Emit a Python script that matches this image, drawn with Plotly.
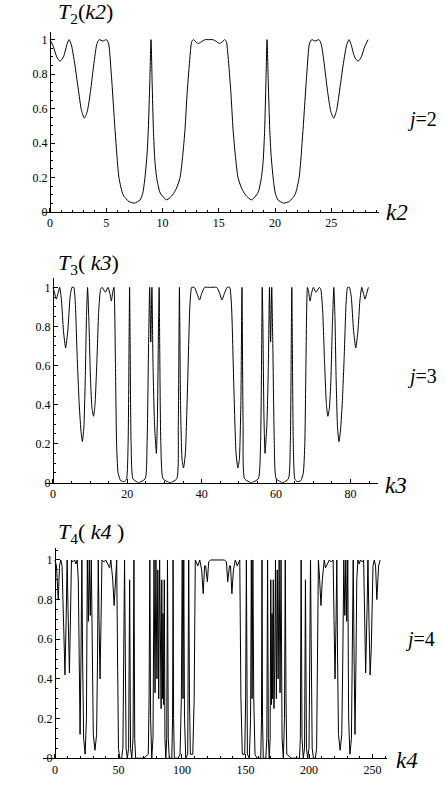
import plotly.graph_objects as go

# ---------------- data ----------------
k2 = [0, 0.3, 0.6, 0.89, 1.2, 1.5, 1.69, 1.9, 2.2, 2.5, 2.8, 3.05, 3.3, 3.6, 3.9, 4.15, 4.36, 4.7, 5.0, 5.2,
      5.45, 5.78, 6.13, 6.5, 7.0, 7.5, 8.0, 8.25, 8.44, 8.62, 8.74, 8.87, 8.98, 9.08, 9.19, 9.32, 9.48, 9.8,
      10.37, 10.9, 11.25, 11.56, 11.8, 12.0, 12.2, 12.44, 12.6, 12.75, 13.0, 13.2, 13.5, 13.8,
      14.14,
      14.47, 14.77, 15.07, 15.27, 15.52, 15.67, 15.83, 16.07, 16.27, 16.47, 16.71, 17.02, 17.37, 17.9, 18.47,
      18.79, 18.95, 19.08, 19.19, 19.29, 19.4, 19.53, 19.65, 19.83, 20.02, 20.27, 20.77, 21.27, 21.77, 22.14,
      22.49, 22.82, 23.07, 23.27, 23.57, 23.91, 24.12, 24.37, 24.67, 24.97, 25.22, 25.47, 25.77, 26.07, 26.37,
      26.58, 26.77, 27.07, 27.38, 27.67, 27.97, 28.27]
T2 = [1.0, 0.96, 0.90, 0.875, 0.90, 0.97, 1.0, 0.97, 0.86, 0.72, 0.59, 0.545, 0.58, 0.70, 0.86, 0.97, 1.0, 0.992,
      1.0, 0.98, 0.80, 0.48, 0.20, 0.10, 0.062, 0.052, 0.07, 0.11, 0.20, 0.33, 0.48, 0.75, 1.0, 0.75, 0.48,
      0.30, 0.20, 0.11, 0.071, 0.10, 0.14, 0.20, 0.33, 0.48, 0.70, 0.90, 0.99, 1.0, 0.985, 0.978, 0.99, 1.0,
      1.0,
      1.0, 0.99, 0.978, 0.985, 1.0, 0.99, 0.90, 0.70, 0.48, 0.33, 0.20, 0.14, 0.10, 0.071, 0.11, 0.20, 0.30,
      0.48, 0.75, 1.0, 0.75, 0.48, 0.33, 0.20, 0.11, 0.07, 0.052, 0.062, 0.10, 0.20, 0.48, 0.80, 0.98, 1.0,
      0.992, 1.0, 0.97, 0.86, 0.70, 0.58, 0.545, 0.59, 0.72, 0.86, 0.97, 1.0, 0.97, 0.90, 0.875, 0.90, 0.96, 1.0]

k3 = [0, 0.45, 0.9, 1.35, 1.8, 2.3, 2.8, 3.4, 4.0, 4.6, 5.1, 5.6, 6.0, 6.5, 7.0, 7.5, 7.9, 8.3, 8.7, 9.0,
      9.3, 9.7, 10.1, 10.5, 10.9, 11.3, 11.8, 12.3, 12.8, 13.2, 14.1, 14.8, 15.3, 15.7, 16.1, 16.4, 16.8, 17.1,
      17.5, 18.2, 19.2, 19.8, 20.2, 20.45, 20.6, 20.75, 21.0, 21.5, 23.0, 24.8, 25.3, 25.7, 26.0, 26.3, 26.6,
      26.9, 27.3, 27.8, 28.1, 28.4, 28.55, 28.7, 29.0, 29.6, 31.5, 33.3, 33.7, 34.0, 34.3, 34.7, 35.1, 35.6,
      36.2, 36.8, 37.3, 38.0, 38.7, 39.4, 40.0, 40.8,
      42.41,
      44.02, 44.82, 45.42, 46.12, 46.82, 47.52, 48.02, 48.62, 49.22, 49.72, 50.12, 50.52, 50.82, 51.12, 51.52,
      53.32, 55.22, 55.82, 56.12, 56.27, 56.42, 56.72, 57.02, 57.52, 57.92, 58.22, 58.52, 58.82, 59.12, 59.52,
      60.02, 61.82, 63.32, 63.82, 64.07, 64.22, 64.37, 64.62, 65.02, 65.62, 66.62, 67.32, 67.72, 68.02, 68.42,
      68.72, 69.12, 69.52, 70.02, 70.72, 71.62, 72.02, 72.52, 73.02, 73.52, 73.92, 74.32, 74.72, 75.12, 75.52,
      75.82, 76.12, 76.52, 76.92, 77.32, 77.82, 78.32, 78.82, 79.22, 79.72, 80.22, 80.82, 81.42, 82.02, 82.52,
      83.02, 83.47, 83.92, 84.37, 84.82]
T3 = [1.0, 0.97, 0.94, 0.97, 1.0, 0.93, 0.78, 0.69, 0.78, 0.95, 1.0, 1.0, 0.92, 0.65, 0.42, 0.27, 0.21, 0.28,
      0.55, 0.85, 1.0, 0.8, 0.52, 0.38, 0.34, 0.40, 0.62, 0.88, 0.99, 1.0, 0.975, 1.0, 0.97, 0.93, 0.98, 1.0,
      0.6, 0.2, 0.05, 0.01, 0.005, 0.02, 0.2, 0.7, 1.0, 0.7, 0.2, 0.02, 0.0, 0.02, 0.2, 0.7, 1.0, 0.72, 1.0,
      0.6, 0.3, 0.15, 0.35, 0.85, 1.0, 0.7, 0.2, 0.02, 0.0, 0.02, 0.3, 1.0, 0.4, 0.12, 0.075, 0.15, 0.5, 0.9,
      1.0, 1.0, 0.97, 0.935, 0.97, 1.0,
      1.0,
      1.0, 0.97, 0.935, 0.97, 1.0, 1.0, 0.9, 0.5, 0.15, 0.075, 0.12, 0.4, 1.0, 0.3, 0.02, 0.0, 0.02, 0.2, 0.7,
      1.0, 0.85, 0.35, 0.15, 0.3, 0.6, 1.0, 0.72, 1.0, 0.7, 0.2, 0.02, 0.0, 0.02, 0.2, 0.7, 1.0, 0.7, 0.2,
      0.02, 0.005, 0.01, 0.05, 0.2, 0.6, 1.0, 0.98, 0.93, 0.97, 1.0, 0.975, 1.0, 0.99, 0.88, 0.62, 0.40, 0.34,
      0.38, 0.52, 0.8, 1.0, 0.85, 0.55, 0.28, 0.21, 0.27, 0.42, 0.65, 0.92, 1.0, 1.0, 0.95, 0.78, 0.69, 0.78,
      0.93, 1.0, 0.97, 0.94, 0.97, 1.0]

k4 = [0, 1.2, 2.6, 3.6, 4.6, 5.6, 6.3, 7.0, 7.9, 8.8, 9.6, 10.3, 11.4, 12.2, 13.0, 14.0, 15.5, 16.5, 17.5,
      18.4, 19.0, 19.8, 20.5, 21.2, 21.8, 22.6, 23.8, 24.8, 25.5, 26.3, 27.0, 27.8, 28.6, 29.4, 30.2, 31.5,
      32.8, 33.5, 34.1, 34.7, 35.5, 36.3, 37.0, 38.5, 40, 41.5, 43, 44, 45.5, 46.6, 47.6, 48.6, 49.3, 50, 51,
      52.5, 53.5, 54.3, 54.8, 55.3, 56, 57, 58, 58.8, 59.5, 60.5, 61.5, 62.2, 62.8, 63.5, 70, 73.5, 74.1, 74.7,
      75.3, 76.2, 77.2, 78.0, 78.8, 79.5, 80.3, 81.0, 81.7, 82.4, 83.0, 83.6, 84.1, 84.6, 85.1, 85.6, 86.1,
      86.6, 87.3, 88.0, 88.6, 89.2, 90, 92, 92.6, 93.0, 93.4, 94, 97, 98.5, 99.5, 100.2, 100.8, 101.4, 102,
      103, 104.5, 105.3, 105.9, 106.6, 108.5, 109.6, 110.5, 112.5, 114, 115.5, 116.7, 117.8, 118.6, 120, 121,
      122.5,
      128,
      133.5, 135, 136, 137.4, 138.2, 139.3, 140.5, 142, 143.5, 145.5, 146.4, 147.5, 149.4, 150.1, 150.7,
      151.5, 153, 154, 154.6, 155.2, 155.8, 156.5, 157.5, 159, 162, 162.6, 163.0, 163.4, 164, 166, 166.8,
      167.4, 168.0, 168.7, 169.4, 169.9, 170.4, 170.9, 171.4, 171.9, 172.4, 173.0, 173.6, 174.3, 175.0, 175.7,
      176.5, 177.2, 178.0, 178.8, 179.8, 180.7, 181.3, 181.9, 182.5, 186, 192.5, 193.2, 193.8, 194.5, 195.5,
      196.5, 197.2, 198, 199, 200, 200.7, 201.2, 201.7, 202.5, 203.5, 205, 206, 206.7, 207.4, 208.4, 209.4,
      210.5, 212, 213, 214.5, 216, 217.5, 219.0, 219.7, 220.5, 221.3, 221.9, 222.5, 223.2, 224.5, 225.8,
      226.6, 227.4, 228.2, 229.0, 229.7, 230.5, 231.2, 232.2, 233.4, 234.2, 234.8, 235.5, 236.2, 237.0, 237.6,
      238.5, 239.5, 240.5, 242.0, 243.0, 243.8, 244.6, 245.7, 246.4, 247.2, 248.1, 249.0, 249.7, 250.4, 251.4,
      252.4, 253.4, 254.8, 256]
T4 = [1.0, 0.97, 0.80, 0.97, 1.0, 0.97, 0.8, 0.55, 0.42, 0.7, 1.0, 0.75, 0.43, 0.7, 1.0, 0.99, 1.0, 0.98, 1.0,
      0.9, 0.5, 0.12, 0.5, 1.0, 0.5, 0.1, 0.02, 0.2, 1.0, 0.69, 1.0, 0.72, 1.0, 0.5, 0.12, 0.04, 0.12, 0.5,
      1.0, 0.7, 0.4, 0.7, 1.0, 0.99, 1.0, 0.98, 0.96, 1.0, 0.9, 0.77, 0.9, 1.0, 0.5, 0.05, 0.0, 0.0, 0.05,
      0.6, 1.0, 0.6, 0.05, 0.0, 0.05, 0.9, 0.05, 0.0, 0.1, 1.0, 0.1, 0.0, 0.0, 0.02, 0.3, 1.0, 0.2, 0.0, 0.1,
      1.0, 0.33, 1.0, 0.4, 0.95, 0.3, 1.0, 0.45, 0.25, 0.9, 0.3, 0.73, 0.27, 0.9, 0.1, 0.0, 0.1, 1.0, 0.1,
      0.0, 0.0, 0.2, 1.0, 0.2, 0.0, 0.0, 0.02, 0.3, 1.0, 0.3, 1.0, 0.2, 0.0, 0.02, 1.0, 0.3, 0.02, 0.02, 0.3,
      1.0, 0.97, 1.0, 0.95, 0.83, 0.97, 0.97, 0.89, 0.99, 1.0,
      1.0,
      1.0, 0.99, 0.89, 0.97, 0.97, 0.83, 0.95, 1.0, 0.97, 1.0, 0.3, 0.02, 0.02, 0.3, 1.0, 0.02, 0.0, 0.2, 1.0,
      0.3, 1.0, 0.3, 0.02, 0.0, 0.0, 0.2, 1.0, 0.2, 0.0, 0.0, 0.1, 1.0, 0.1, 0.0, 0.1, 0.9, 0.27, 0.73, 0.3,
      0.9, 0.25, 0.45, 1.0, 0.3, 0.95, 0.4, 1.0, 0.33, 1.0, 0.1, 0.0, 0.2, 1.0, 0.3, 0.02, 0.0, 0.0, 0.1, 1.0,
      0.1, 0.0, 0.05, 0.9, 0.05, 0.0, 0.05, 0.6, 1.0, 0.6, 0.05, 0.0, 0.0, 0.05, 0.5, 1.0, 0.9, 0.77, 0.9,
      1.0, 0.96, 0.98, 1.0, 0.99, 1.0, 0.7, 0.4, 0.7, 1.0, 0.5, 0.12, 0.04, 0.12, 0.5, 1.0, 0.72, 1.0, 0.69,
      1.0, 0.2, 0.02, 0.1, 0.5, 1.0, 0.5, 0.12, 0.5, 0.9, 1.0, 0.98, 1.0, 0.99, 1.0, 0.7, 0.43, 0.75, 1.0,
      0.7, 0.42, 0.55, 0.8, 0.97, 1.0, 0.97, 0.80, 0.97, 1.0]

x_ticks_2 = [0, 5, 10, 15, 20, 25]
x_ticks_3 = [0, 20, 40, 60, 80]
x_ticks_4 = [0, 50, 100, 150, 200, 250]
y_ticks = [0, 0.2, 0.4, 0.6, 0.8, 1]
y_tick_text = ["0", "0.2", "0.4", "0.6", "0.8", "1"]

# ---------------- layout helpers ----------------
W, H = 446, 787
SERIF = "Liberation Serif"


def px(x):
    return x / W


def py(y):
    return 1 - y / H


fig = go.Figure()
fig.add_trace(go.Scatter(x=k2, y=T2, mode="lines", line=dict(color="black", width=1, shape="spline", smoothing=0.6),
                         xaxis="x", yaxis="y", showlegend=False))
fig.add_trace(go.Scatter(x=k3, y=T3, mode="lines", line=dict(color="black", width=1, shape="spline", smoothing=0.5),
                         xaxis="x2", yaxis="y2", showlegend=False))
fig.add_trace(go.Scatter(x=k4, y=T4, mode="lines", line=dict(color="black", width=1),
                         xaxis="x3", yaxis="y3", showlegend=False))

tickfont = dict(family=SERIF, size=12, color="black")


def xaxis(dom, rng, ticks, minor, yname):
    return dict(domain=dom, range=rng, anchor=yname, showline=True, linecolor="black", linewidth=1,
                showgrid=False, zeroline=False, tickmode="array", tickvals=ticks,
                ticktext=[str(t) for t in ticks], ticks="inside", ticklen=4, tickcolor="black",
                tickfont=tickfont, minor=dict(dtick=minor, ticks="inside", ticklen=2, tickcolor="black",
                                              showgrid=False))


def yaxis(dom, rng, pos):
    return dict(domain=dom, range=rng, anchor="free", position=pos, showline=True, linecolor="black",
                linewidth=1, showgrid=False, zeroline=False, tickmode="array", tickvals=y_ticks,
                ticktext=y_tick_text, ticks="inside", ticklen=4, tickcolor="black", tickfont=tickfont,
                minor=dict(dtick=0.05, ticks="inside", ticklen=2, tickcolor="black", showgrid=False))


fig.update_layout(
    width=W, height=H, margin=dict(l=0, r=0, t=0, b=0),
    paper_bgcolor="white", plot_bgcolor="rgba(0,0,0,0)",
    font=dict(family=SERIF, color="black"),
    xaxis=xaxis([px(43), px(379)], [-0.62, 29.24], x_ticks_2, 1, "y"),
    yaxis=yaxis([py(214), py(32)], [0, 1.046], px(50)),
    xaxis2=xaxis([px(45.7), px(378)], [-1.96, 87.4], x_ticks_3, 5, "y2"),
    yaxis2=yaxis([py(487), py(280.7)], [0, 1.047], px(53)),
    xaxis3=xaxis([px(43), px(387)], [-9.4, 261.4], x_ticks_4, 10, "y3"),
    yaxis3=yaxis([py(765), py(553)], [0, 1.06], px(55)),
)

ann = []


def add_text(text, x, y, size, xanchor="center"):
    ann.append(dict(text=text, x=px(x), y=py(y), xref="paper", yref="paper", showarrow=False,
                    xanchor=xanchor, yanchor="middle", font=dict(family=SERIF, size=size, color="black")))


add_text("<i>T</i><sub>2</sub>(<i>k2</i>)", 56, 13, 22, "left")
add_text("<i>T</i><sub>3</sub>( <i>k3</i>)", 56, 266, 22, "left")
add_text("<i>T</i><sub>4</sub>( <i>k4</i> )", 56, 538, 22, "left")
add_text("<i>k2</i>", 397, 214, 23)
add_text("<i>k3</i>", 396, 490, 23)
add_text("<i>k4</i>", 407, 767, 23)
add_text("<i>j</i>=2", 422, 121, 20)
add_text("<i>j</i>=3", 422, 380, 20)
add_text("<i>j</i>=4", 420, 645, 20)
fig.update_layout(annotations=ann)

fig.write_html(
    "out.html",
    config={"displayModeBar": False},
    post_script="document.body.style.margin='0';document.body.style.padding='0';"
                "document.documentElement.style.overflow='hidden';document.body.style.overflow='hidden';",
)
